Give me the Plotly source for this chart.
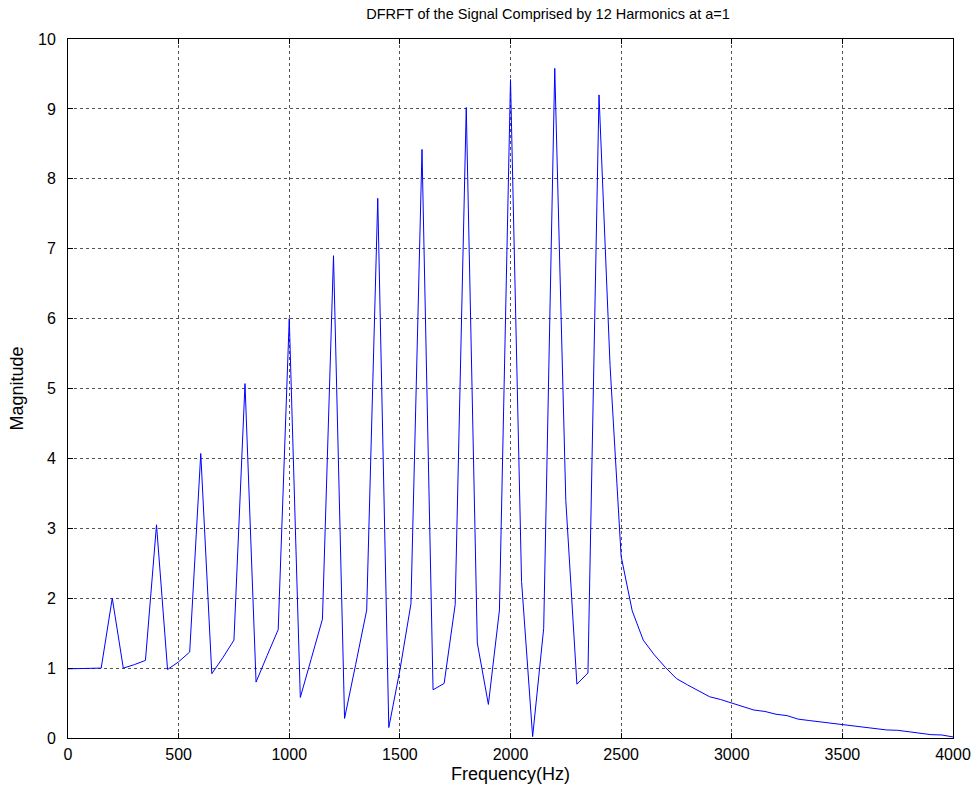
import plotly.graph_objects as go

freq_hz = list(range(0, 4001, 50))
magnitude = [
    0.99, 0.99, 1.00, 1.00, 2.00, 1.00, 1.05, 1.11, 3.05, 0.98,
    1.09, 1.23, 4.07, 0.92, 1.15, 1.40, 5.07, 0.80, 1.18, 1.55,
    6.00, 0.58, 1.14, 1.70, 6.90, 0.28, 1.05, 1.83, 7.72, 0.15,
    0.97, 1.92, 8.42, 0.69, 0.78, 1.91, 9.02, 1.36, 0.48, 1.83,
    9.42, 2.24, 0.02, 1.57, 9.58, 3.40, 0.77, 0.93, 9.20, 5.33,
    2.60, 1.82, 1.40, 1.19, 1.01, 0.85, 0.76, 0.67, 0.59, 0.55,
    0.50, 0.45, 0.40, 0.38, 0.34, 0.32, 0.27, 0.25, 0.23, 0.215,
    0.195, 0.17, 0.15, 0.13, 0.115, 0.11, 0.09, 0.067, 0.048, 0.043,
    0.015,
]
x_ticks = [0, 500, 1000, 1500, 2000, 2500, 3000, 3500, 4000]
y_ticks = list(range(0, 11))

FONT = "Liberation Sans, Arial"

fig = go.Figure()
fig.add_trace(go.Scatter(x=freq_hz, y=magnitude, mode="lines",
                         line=dict(color="#0000ff", width=1), showlegend=False))

axis_common = dict(
    showline=True, linecolor="black", linewidth=1, mirror="allticks",
    ticks="inside", ticklen=5, tickcolor="black", tickwidth=1,
    showgrid=True, gridcolor="#555555", griddash="dot", gridwidth=1,
    zeroline=False, automargin=False,
    tickfont=dict(family=FONT, size=16, color="black"),
)

fig.update_xaxes(range=[0, 4000], tickvals=x_ticks, ticklabelstandoff=2,
                 title=dict(text="Frequency(Hz)", standoff=5,
                            font=dict(family=FONT, size=18, color="black")),
                 **axis_common)
fig.update_yaxes(range=[0, 10], tickvals=y_ticks, ticklabelstandoff=8,
                 title=dict(text="Magnitude", standoff=9,
                            font=dict(family=FONT, size=18, color="black")),
                 **axis_common)

fig.update_layout(
    width=977, height=794,
    margin=dict(l=68, r=24, t=39, b=56, autoexpand=False),
    paper_bgcolor="white", plot_bgcolor="white",
    title=dict(text="DFRFT of the Signal Comprised by 12 Harmonics at a=1",
               x=(548 - 68) / 885, xanchor="center", xref="paper",
               y=1 - 14 / 794, yanchor="middle", automargin=False,
               font=dict(family=FONT, size=14.5, color="black")),
    font=dict(family=FONT, color="black"),
)

fig.write_html(
    "out.html",
    config={"displayModeBar": False},
    post_script="document.body.style.margin='0';document.body.style.overflow='hidden';",
)
